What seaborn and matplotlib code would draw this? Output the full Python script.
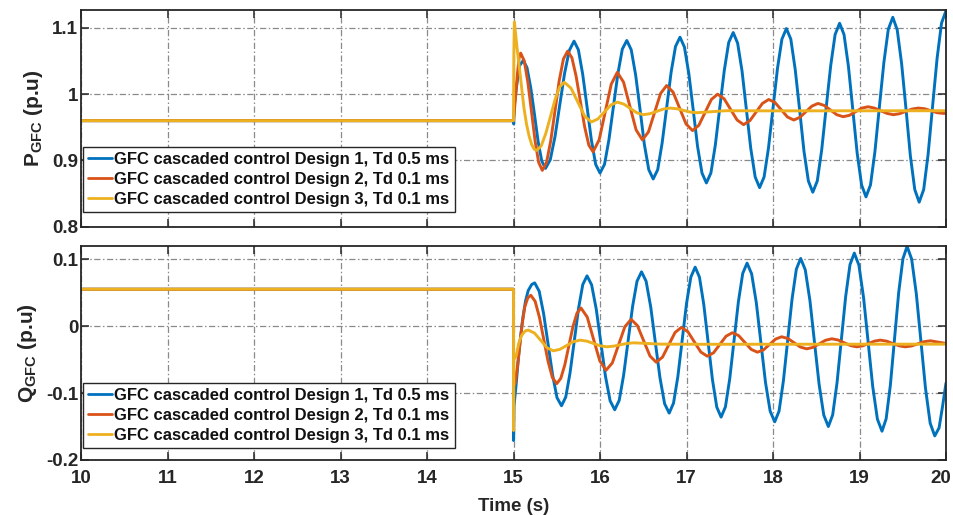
import matplotlib
matplotlib.use("Agg")
import matplotlib.pyplot as plt
import matplotlib.transforms as mtransforms
import seaborn as sns

# ---------------- data ----------------
x_ticks = [10, 11, 12, 13, 14, 15, 16, 17, 18, 19, 20]
p_ticks = [0.8, 0.9, 1.0, 1.1]
p_tick_labels = ["0.8", "0.9", "1", "1.1"]
q_ticks = [-0.2, -0.1, 0.0, 0.1]
q_tick_labels = ["-0.2", "-0.1", "0", "0.1"]

series_labels = [
    "GFC cascaded control Design 1, Td 0.5 ms",
    "GFC cascaded control Design 2, Td 0.1 ms",
    "GFC cascaded control Design 3, Td 0.1 ms",
]

# P_GFC, Design 1
p1_t = [10.0, 15.0, 15.002, 15.01, 15.04, 15.07, 15.113,
        15.156, 15.199, 15.242, 15.284, 15.327, 15.37,
        15.425, 15.48, 15.535, 15.59, 15.645, 15.70,
        15.75, 15.80, 15.85, 15.90, 15.95, 16.00,
        16.052, 16.103, 16.155, 16.207, 16.258, 16.31,
        16.361, 16.412, 16.463, 16.513, 16.564, 16.615,
        16.667, 16.718, 16.77, 16.822, 16.873, 16.925,
        16.976, 17.027, 17.078, 17.128, 17.179, 17.23,
        17.282, 17.333, 17.385, 17.437, 17.488, 17.54,
        17.591, 17.642, 17.693, 17.743, 17.794, 17.845,
        17.897, 17.948, 18.0, 18.052, 18.103, 18.155,
        18.206, 18.257, 18.308, 18.358, 18.409, 18.46,
        18.512, 18.563, 18.615, 18.667, 18.718, 18.77,
        18.821, 18.872, 18.923, 18.973, 19.024, 19.075,
        19.127, 19.178, 19.23, 19.282, 19.333, 19.385,
        19.436, 19.487, 19.538, 19.588, 19.639, 19.69,
        19.742, 19.793, 19.845, 19.897, 19.948, 20.0]
p1_v = [0.960, 0.960, 0.955, 0.985, 1.016, 1.043, 1.051,
        1.040, 1.010, 0.970, 0.929, 0.899, 0.888,
        0.901, 0.936, 0.984, 1.031, 1.066, 1.080,
        1.067, 1.030, 0.981, 0.931, 0.894, 0.881,
        0.894, 0.931, 0.981, 1.031, 1.068, 1.081,
        1.067, 1.029, 0.977, 0.924, 0.886, 0.872,
        0.886, 0.926, 0.979, 1.033, 1.072, 1.086,
        1.071, 1.031, 0.976, 0.921, 0.881, 0.866,
        0.881, 0.923, 0.980, 1.036, 1.078, 1.093,
        1.077, 1.035, 0.976, 0.918, 0.875, 0.859,
        0.875, 0.919, 0.979, 1.039, 1.083, 1.099,
        1.083, 1.037, 0.976, 0.914, 0.869, 0.852,
        0.869, 0.916, 0.980, 1.043, 1.090, 1.107,
        1.090, 1.042, 0.976, 0.911, 0.863, 0.845,
        0.863, 0.913, 0.981, 1.048, 1.098, 1.116,
        1.097, 1.046, 0.977, 0.907, 0.856, 0.837,
        0.856, 0.909, 0.982, 1.054, 1.107, 1.126]

# P_GFC, Design 2
p2_t = [10.0, 15.0, 15.02, 15.045, 15.065, 15.083,
        15.125, 15.166, 15.208, 15.25, 15.291, 15.333,
        15.382, 15.431, 15.48, 15.528, 15.577, 15.626,
        15.675, 15.724, 15.773, 15.822, 15.871, 15.92,
        15.99, 16.06, 16.13, 16.20,
        16.2725, 16.345, 16.4175, 16.49,
        16.56, 16.63, 16.70, 16.77,
        16.845, 16.92, 16.995, 17.07,
        17.1425, 17.215, 17.2875, 17.36,
        17.435, 17.51, 17.585, 17.66,
        17.7325, 17.805, 17.8775, 17.95,
        18.0225, 18.095, 18.1675, 18.24,
        18.31, 18.38, 18.45, 18.52,
        18.5925, 18.665, 18.7375, 18.81,
        18.8825, 18.955, 19.0275, 19.10,
        19.1725, 19.245, 19.3175, 19.39,
        19.4625, 19.535, 19.6075, 19.68,
        19.7525, 19.825, 19.8975, 19.97, 20.0]
p2_v = [0.960, 0.960, 0.990, 1.030, 1.055, 1.062,
        1.050, 1.018, 0.974, 0.929, 0.897, 0.885,
        0.897, 0.930, 0.975, 1.020, 1.053, 1.065,
        1.055, 1.027, 0.989, 0.951, 0.923, 0.913,
        0.931, 0.973, 1.015, 1.033,
        1.018, 0.982, 0.946, 0.931,
        0.943, 0.972, 1.001, 1.013,
        1.003, 0.979, 0.955, 0.945,
        0.953, 0.9725, 0.992, 1.000,
        0.993, 0.977, 0.961, 0.954,
        0.960, 0.973, 0.986, 0.992,
        0.9875, 0.9765, 0.9655, 0.961,
        0.965, 0.9735, 0.982, 0.986,
        0.983, 0.976, 0.969, 0.966,
        0.968, 0.9735, 0.979, 0.981,
        0.979, 0.975, 0.971, 0.969,
        0.9705, 0.974, 0.9775, 0.979,
        0.978, 0.975, 0.972, 0.971, 0.971]

# P_GFC, Design 3
p3_t = [10.0, 15.0, 15.004, 15.01, 15.04, 15.08, 15.12, 15.15, 15.18, 15.21, 15.24, 15.268,
        15.321, 15.374, 15.428, 15.481, 15.534, 15.587,
        15.665, 15.744, 15.822, 15.90,
        15.975, 16.05, 16.125, 16.20,
        16.275, 16.35, 16.425, 16.50,
        16.5775, 16.655, 16.7325, 16.81,
        16.8875, 16.965, 17.0425, 17.12,
        17.45, 18.0, 20.0]
p3_v = [0.960, 0.960, 1.060, 1.109, 1.071, 1.026, 0.980, 0.955, 0.937, 0.924, 0.917, 0.915,
        0.922, 0.941, 0.9665, 0.992, 1.011, 1.018,
        1.009, 0.988, 0.967, 0.958,
        0.9625, 0.973, 0.9835, 0.988,
        0.985, 0.9785, 0.972, 0.969,
        0.9705, 0.974, 0.9775, 0.979,
        0.978, 0.9755, 0.973, 0.972,
        0.975, 0.9748, 0.975]

# Q_GFC, Design 1
q1_t = [10.0, 15.0, 15.001, 15.006, 15.03, 15.055, 15.08, 15.11, 15.14, 15.17, 15.21, 15.245,
        15.297, 15.348, 15.40, 15.452, 15.503, 15.555,
        15.604, 15.653, 15.703, 15.752, 15.801, 15.85,
        15.903, 15.957, 16.01, 16.063, 16.117, 16.17,
        16.222, 16.273, 16.325, 16.377, 16.428, 16.48,
        16.533, 16.587, 16.64, 16.693, 16.747, 16.80,
        16.85, 16.90, 16.95, 17.00, 17.05, 17.10,
        17.15, 17.20, 17.25, 17.30, 17.35, 17.40,
        17.45, 17.50, 17.55, 17.60, 17.65, 17.70,
        17.753, 17.807, 17.86, 17.913, 17.967, 18.02,
        18.07, 18.12, 18.17, 18.22, 18.27, 18.32,
        18.373, 18.427, 18.48, 18.533, 18.587, 18.64,
        18.69, 18.74, 18.79, 18.84, 18.89, 18.94,
        18.993, 19.047, 19.10, 19.153, 19.207, 19.26,
        19.308, 19.357, 19.405, 19.453, 19.502, 19.55,
        19.603, 19.657, 19.71, 19.763, 19.817, 19.87,
        19.92, 19.96, 20.0]
q1_v = [0.055, 0.055, -0.171, -0.119, -0.088, -0.050, -0.018, 0.014, 0.038, 0.053, 0.062, 0.0645,
        0.052, 0.0186, -0.027, -0.073, -0.107, -0.119,
        -0.106, -0.0705, -0.022, 0.0265, 0.062, 0.075,
        0.0616, 0.025, -0.025, -0.075, -0.1116, -0.125,
        -0.111, -0.0735, -0.022, 0.0295, 0.067, 0.081,
        0.067, 0.028, -0.0245, -0.077, -0.116, -0.130,
        -0.115, -0.0755, -0.021, 0.0335, 0.073, 0.088,
        0.073, 0.032, -0.024, -0.080, -0.121, -0.136,
        -0.1206, -0.0785, -0.021, 0.0365, 0.0786, 0.094,
        0.078, 0.035, -0.0245, -0.084, -0.127, -0.143,
        -0.127, -0.082, -0.021, 0.040, 0.085, 0.101,
        0.084, 0.038, -0.0245, -0.087, -0.133, -0.150,
        -0.1326, -0.085, -0.0205, 0.044, 0.0917, 0.109,
        0.091, 0.0425, -0.024, -0.0905, -0.139, -0.157,
        -0.1385, -0.088, -0.019, 0.050, 0.1005, 0.119,
        0.100, 0.048, -0.0225, -0.093, -0.145, -0.164,
        -0.152, -0.120, -0.085]

# Q_GFC, Design 2
q2_t = [10.0, 15.0, 15.001, 15.02, 15.045, 15.075, 15.10, 15.13, 15.165, 15.20,
        15.25, 15.30, 15.35, 15.40, 15.45, 15.50,
        15.547, 15.593, 15.64, 15.687, 15.733, 15.78,
        15.8525, 15.925, 15.9975, 16.07,
        16.1425, 16.215, 16.2875, 16.36,
        16.4325, 16.505, 16.5775, 16.65,
        16.7225, 16.795, 16.8675, 16.94,
        17.015, 17.09, 17.165, 17.24,
        17.3125, 17.385, 17.4575, 17.53,
        17.6025, 17.675, 17.7475, 17.82,
        17.89, 17.96, 18.03, 18.10,
        18.1725, 18.245, 18.3175, 18.39,
        18.4625, 18.535, 18.6075, 18.68,
        18.7525, 18.825, 18.8975, 18.97,
        19.0375, 19.105, 19.1725, 19.24,
        19.3125, 19.385, 19.4575, 19.53,
        19.6025, 19.675, 19.7475, 19.82,
        19.91, 20.0]
q2_v = [0.055, 0.055, -0.090, -0.085, -0.062, -0.026, 0.003, 0.0285, 0.042, 0.046,
        0.037, 0.013, -0.020, -0.053, -0.077, -0.086,
        -0.078, -0.058, -0.0295, -0.001, 0.019, 0.027,
        0.0134, -0.0195, -0.052, -0.066,
        -0.055, -0.028, -0.001, 0.010,
        0.0007, -0.022, -0.0447, -0.054,
        -0.0464, -0.028, -0.0096, -0.002,
        -0.0083, -0.0235, -0.0387, -0.045,
        -0.0399, -0.0275, -0.0151, -0.010,
        -0.0142, -0.0245, -0.0348, -0.039,
        -0.0356, -0.0275, -0.0194, -0.016,
        -0.0186, -0.025, -0.0314, -0.034,
        -0.0318, -0.0265, -0.0212, -0.019,
        -0.0208, -0.025, -0.0292, -0.031,
        -0.0295, -0.026, -0.0225, -0.021,
        -0.0225, -0.026, -0.0295, -0.031,
        -0.0297, -0.0265, -0.0233, -0.022,
        -0.024, -0.026]

# Q_GFC, Design 3
q3_t = [10.0, 15.0, 15.001, 15.004, 15.03, 15.06, 15.09, 15.11, 15.14, 15.171,
        15.243, 15.316, 15.388, 15.46,
        15.5375, 15.615, 15.6925, 15.77,
        15.8475, 15.925, 16.0025, 16.08,
        16.1575, 16.235, 16.3125, 16.39,
        16.7, 17.2, 20.0]
q3_v = [0.055, 0.055, -0.156, -0.050, -0.045, -0.026, -0.015, -0.011, -0.007, -0.006,
        -0.0105, -0.0215, -0.0325, -0.037,
        -0.0347, -0.029, -0.0233, -0.021,
        -0.0225, -0.026, -0.0295, -0.031,
        -0.030, -0.028, -0.026, -0.025,
        -0.027, -0.0272, -0.027]

colors = ["#0072BD", "#D95319", "#EDB120"]

# ---------------- style ----------------
sns.set_theme(style="white")
plt.rcParams["font.family"] = ["Liberation Sans", "DejaVu Sans"]
plt.rcParams["font.weight"] = "bold"
plt.rcParams["axes.labelweight"] = "bold"
plt.rcParams["mathtext.fontset"] = "custom"
plt.rcParams["mathtext.rm"] = "Liberation Sans:bold"
plt.rcParams["mathtext.bf"] = "Liberation Sans:bold"
plt.rcParams["mathtext.it"] = "Liberation Sans:bold"

W, H = 954, 515
fig = plt.figure(figsize=(W / 100, H / 100), dpi=100)
left = 81 / W
width = (946 - 81) / W
ax1 = fig.add_axes([left, 1 - 226.7 / H, width, (226.7 - 10) / H])
ax2 = fig.add_axes([left, 1 - 460 / H, width, (460 - 245.7) / H])

edge = "#262626"
tick_fs = 13.5

def style_axes(ax, yt, ytl, ylim, ylabel, show_x):
    ax.set_xlim(10, 20)
    ax.set_ylim(*ylim)
    ax.set_xticks(x_ticks)
    ax.set_yticks(yt)
    ax.set_yticklabels(ytl)
    if show_x:
        ax.set_xticklabels([str(v) for v in x_ticks])
    else:
        ax.set_xticklabels([])
    ax.grid(True, color="#8a8a8a", linestyle=(0, (5, 2, 1.2, 2)), linewidth=0.9)
    ax.set_axisbelow(True)
    for s in ax.spines.values():
        s.set_color(edge)
        s.set_linewidth(1.3)
        s.set_visible(True)
    ax.tick_params(axis="both", which="both", direction="in", length=6, width=1.1,
                   color=edge, top=True, right=True, bottom=True, left=True,
                   labelsize=tick_fs, labelcolor="#262626")
    ax.tick_params(axis="y", pad=2)
    ax.tick_params(axis="x", pad=7)
    for lab in ax.get_xticklabels() + ax.get_yticklabels():
        lab.set_fontweight("bold")
    ax.set_ylabel(ylabel, fontsize=15, fontweight="bold", color="#262626", labelpad=5)
    ax.set_xlabel("")

series_p = [(p1_t, p1_v), (p2_t, p2_v), (p3_t, p3_v)]
series_q = [(q1_t, q1_v), (q2_t, q2_v), (q3_t, q3_v)]

for ax, series in ((ax1, series_p), (ax2, series_q)):
    for (t, v), c, lab in zip(series, colors, series_labels):
        sns.lineplot(x=t, y=v, ax=ax, color=c, linewidth=2.1, label=lab,
                     estimator=None, sort=False, legend=True)

style_axes(ax1, p_ticks, p_tick_labels, (0.8, 1.127), r"$\mathbf{P}_{\mathbf{GFC}}$ (p.u)", False)
style_axes(ax2, q_ticks, q_tick_labels, (-0.2, 0.12), r"$\mathbf{Q}_{\mathbf{GFC}}$ (p.u)", True)
ax2.set_xlabel("Time (s)", fontsize=13.5, fontweight="bold", color="#262626", labelpad=8)

# nudge the last x tick label so it stays inside the figure like the reference
last_lab = ax2.get_xticklabels()[-1]
last_lab.set_transform(last_lab.get_transform() +
                       mtransforms.ScaledTranslation(-3.5 / 72, 0, fig.dpi_scale_trans))

for ax, yoff in ((ax1, 0.068), (ax2, 0.057)):
    leg = ax.legend(loc="lower left", bbox_to_anchor=(0.002, yoff), borderaxespad=0,
                    fontsize=12, frameon=True, fancybox=False, framealpha=1,
                    edgecolor="#262626", handlelength=1.45, handletextpad=0.15,
                    borderpad=0.3, labelspacing=0.3)
    leg.get_frame().set_linewidth(1.0)
    for txt in leg.get_texts():
        txt.set_fontweight("bold")
        txt.set_color("#111111")
    for ln in leg.get_lines():
        ln.set_linewidth(2.0)

fig.align_ylabels([ax1, ax2])
fig.savefig("out.png", dpi=100)
